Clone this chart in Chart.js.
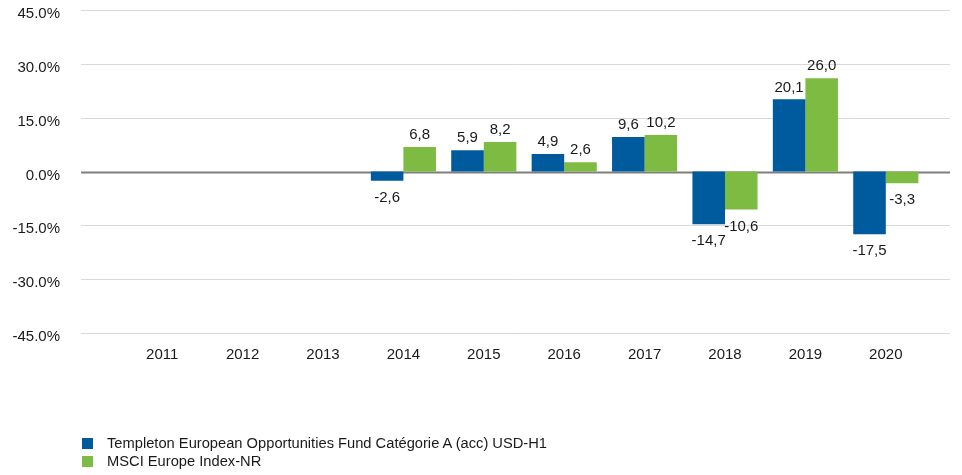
<!DOCTYPE html>
<html>
<head>
<meta charset="utf-8">
<script src="https://cdn.jsdelivr.net/npm/chart.js@4.4.1/dist/chart.umd.min.js"></script>
<style>
  html, body { margin: 0; padding: 0; background: #fff; }
  #wrap { position: relative; width: 962px; height: 475px; }
  #legend { position: absolute; left: 82px; top: 434px; font-family: "Liberation Sans", Arial, sans-serif; font-size: 14.7px; color: #1a1a1a; }
  #legend div { display: flex; align-items: center; height: 18px; }
  #legend span.box { display: inline-block; width: 11px; height: 11px; margin-right: 14px; }
</style>
</head>
<body>
<div id="wrap">
  <canvas id="chart" width="962" height="475"></canvas>
  <div id="legend"></div>
</div>
<script>
let years = ['2011', '2012', '2013', '2014', '2015', '2016', '2017', '2018', '2019', '2020'];
let fundValues = [null, null, null, -2.6, 5.9, 4.9, 9.6, -14.7, 20.1, -17.5];
let indexValues = [null, null, null, 6.8, 8.2, 2.6, 10.2, -10.6, 26.0, -3.3];
let seriesNames = ['Templeton European Opportunities Fund Catégorie A (acc) USD-H1', 'MSCI Europe Index-NR'];
let seriesColors = ['rgb(0, 90, 158)', 'rgb(125, 187, 66)'];

let font = "Liberation Sans, Arial, sans-serif";

// horizontal grid lines run wider than the category area
let gridPlugin = {
    id: 'wideGrid',
    beforeDatasetsDraw(chart) {
        let ctx = chart.ctx;
        let y = chart.scales.y;
        let area = chart.chartArea;
        ctx.save();
        y.ticks.forEach(t => {
            let py = Math.round(y.getPixelForValue(t.value)) + 0.5;
            ctx.beginPath();
            if (t.value === 0) {
                ctx.strokeStyle = '#7f7f7f';
                ctx.lineWidth = 2;
            } else {
                ctx.strokeStyle = '#d9d9d9';
                ctx.lineWidth = 1;
            }
            ctx.moveTo(area.left - 41, py);
            ctx.lineTo(area.right + 24, py);
            ctx.stroke();
        });
        ctx.restore();
    }
};

let valueLabels = {
    id: 'valueLabels',
    afterDatasetsDraw(chart) {
        let ctx = chart.ctx;
        ctx.save();
        ctx.font = '15px ' + font;
        ctx.fillStyle = '#1a1a1a';
        ctx.textAlign = 'center';
        ctx.textBaseline = 'middle';
        chart.data.datasets.forEach((ds, i) => {
            chart.getDatasetMeta(i).data.forEach((bar, j) => {
                let v = ds.data[j];
                if (v === null) return;
                let text = v.toFixed(1).replace('.', ',');
                let y = v >= 0 ? bar.y - 12 : bar.y + 17;
                ctx.fillText(text, bar.x, y);
            });
        });
        ctx.restore();
    }
};

let chart = new Chart(document.getElementById('chart').getContext('2d'), {
    type: 'bar',
    data: {
        labels: years,
        datasets: [
            { label: seriesNames[0], data: fundValues, backgroundColor: seriesColors[0] },
            { label: seriesNames[1], data: indexValues, backgroundColor: seriesColors[1] }
        ]
    },
    options: {
        responsive: false,
        animation: false,
        barPercentage: 1,
        categoryPercentage: 0.81,
        layout: { padding: { top: 10, right: 36, bottom: 112, left: 0 } },
        plugins: {
            legend: { display: false },
            tooltip: { enabled: false }
        },
        scales: {
            x: {
                afterFit: s => { s.height = 30; },
                grid: { display: false, drawTicks: false },
                border: { display: false },
                ticks: { color: '#1a1a1a', font: { family: font, size: 15 }, padding: 13, maxRotation: 0 }
            },
            y: {
                min: -45,
                max: 45,
                afterFit: s => { s.width = 122; s.paddingTop = 0; s.paddingBottom = 0; },
                grid: { display: false, drawTicks: false },
                border: { display: false },
                ticks: {
                    stepSize: 15,
                    padding: 62,
                    labelOffset: 4,
                    color: '#1a1a1a',
                    font: { family: font, size: 15 },
                    callback: v => v.toFixed(1) + '%'
                }
            }
        }
    },
    plugins: [gridPlugin, valueLabels]
});

let legend = document.getElementById('legend');
chart.data.datasets.forEach(ds => {
    let row = document.createElement('div');
    row.innerHTML = '<span class="box" style="background:' + ds.backgroundColor + '"></span>' + ds.label;
    legend.appendChild(row);
});
</script>
</body>
</html>
